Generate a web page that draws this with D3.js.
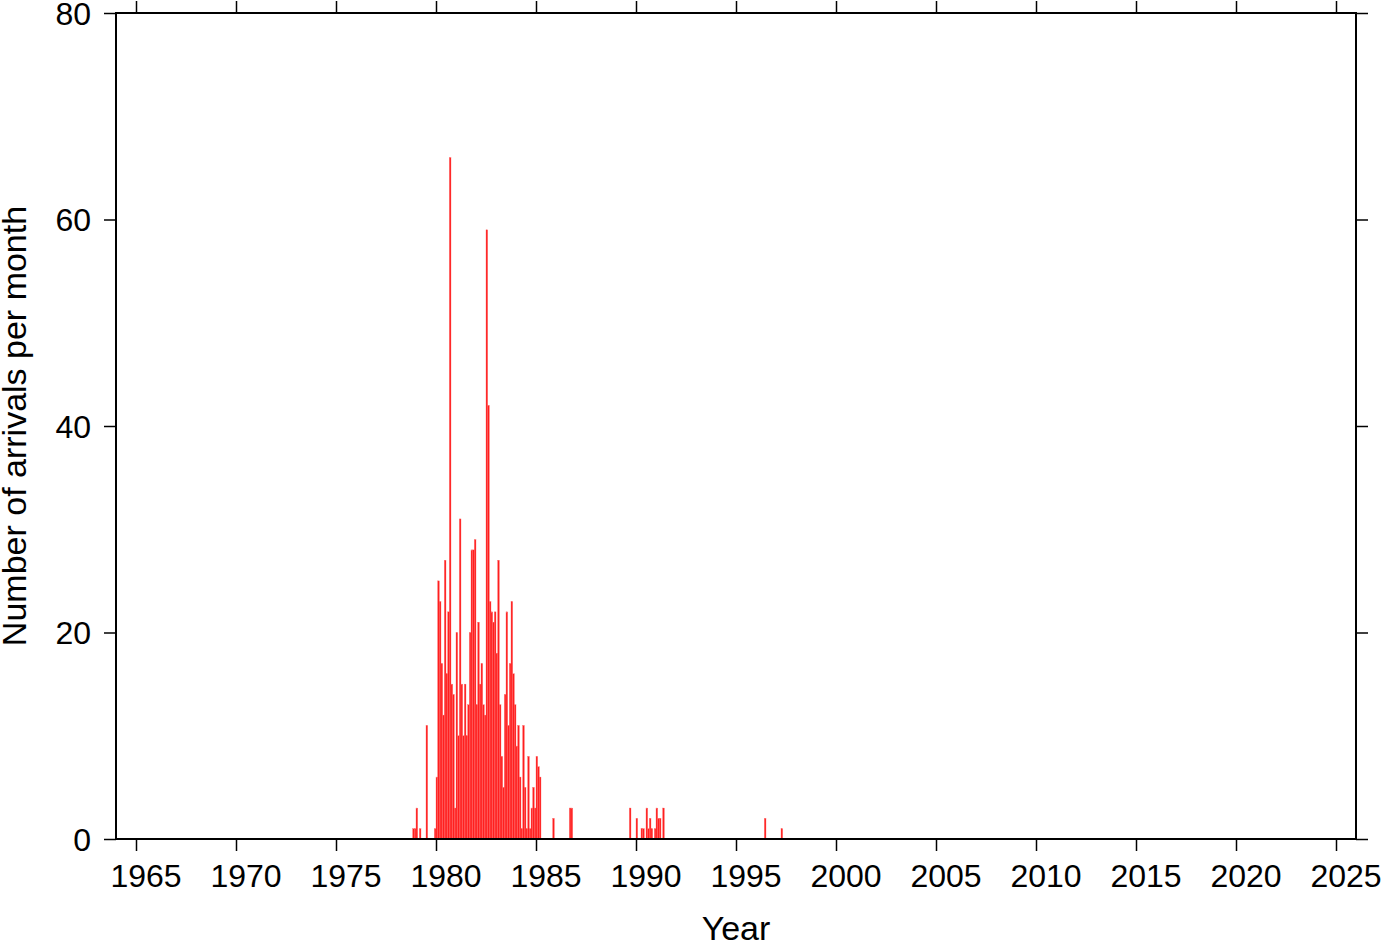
<!DOCTYPE html>
<html>
<head>
<meta charset="utf-8">
<script src="https://cdn.jsdelivr.net/npm/d3@7"></script>
<style>
  html, body { margin: 0; padding: 0; background: #fff; }
  svg { display: block; }
  text { font-family: "Liberation Sans", Arial, Helvetica, sans-serif; fill: #000; }
</style>
</head>
<body>
<script>
// ---------------- data ----------------
// Dense monthly counts starting at firstMonth
const firstMonth = "1978-11";
const monthlyCounts = [
  1, 1, 3, 0, 1, 0, 0, 0, 11, 0, 0, 0, 0, 1, 6, 25, 23, 17, 12, 27,
  16, 22, 66, 15, 14, 3, 20, 10, 31, 15, 10, 15, 10, 13, 20, 28, 28, 29, 13, 21,
  15, 17, 13, 12, 59, 42, 23, 22, 21, 22, 18, 27, 13, 8, 5, 14, 22, 11, 17, 23,
  16, 13, 9, 11, 6, 1, 11, 5, 1, 8, 1, 3, 5, 3, 8, 7, 6
];
// Sparse later months
const laterMonths = ["1985-11", "1986-09", "1986-10", "1989-09", "1990-01", "1990-04", "1990-05",
  "1990-07", "1990-08", "1990-09", "1990-10", "1990-12", "1991-01", "1991-02", "1991-03",
  "1991-05", "1996-06", "1997-04"];
const laterCounts = [2, 3, 3, 3, 2, 1, 1, 3, 1, 2, 1, 1, 3, 2, 2, 3, 2, 1];

const xTickYears = [1965, 1970, 1975, 1980, 1985, 1990, 1995, 2000, 2005, 2010, 2015, 2020, 2025];
const yTicks = [0, 20, 40, 60, 80];
const xTitle = "Year";
const yTitle = "Number of arrivals per month";

// ---------------- build records ----------------
function monthToYear(s) {
  const [y, m] = s.split("-").map(Number);
  return y + (m - 1) / 12;
}
const start = monthToYear(firstMonth);
const bars = [];
monthlyCounts.forEach((c, i) => bars.push({ t: start + i / 12, v: c }));
laterMonths.forEach((s, i) => bars.push({ t: monthToYear(s), v: laterCounts[i] }));

// ---------------- layout ----------------
const W = 1382, H = 942;
const L = 116, R = 1356, T = 13, B = 839;

const svg = d3.select("body").append("svg").attr("width", W).attr("height", H);

const x = d3.scaleLinear().domain([1964, 2026]).range([L, R]);
const y = d3.scaleLinear().domain([0, 80]).range([B, T]);

// bars
svg.append("g").selectAll("rect")
  .data(bars.filter(d => d.v > 0))
  .join("rect")
  .attr("x", d => x(d.t))
  .attr("y", d => y(d.v))
  .attr("width", d => x(d.t + 1 / 12) - x(d.t))
  .attr("height", d => y(0) - y(d.v))
  .attr("fill", "#ff1e1e")
  .attr("stroke", "#ff6464")
  .attr("stroke-width", 0.35);

// axes (ticks only, via d3 axes)
const tickLen = 12;
const axBottom = d3.axisBottom(x).tickValues(xTickYears).tickSize(tickLen).tickFormat("");
const axTop = d3.axisTop(x).tickValues(xTickYears).tickSize(tickLen).tickFormat("");
const axLeft = d3.axisLeft(y).tickValues(yTicks).tickSize(tickLen).tickFormat("");
const axRight = d3.axisRight(y).tickValues(yTicks).tickSize(tickLen).tickFormat("");

function styleAxis(g) {
  g.select(".domain").remove();
  g.selectAll(".tick line").attr("stroke", "#000").attr("stroke-width", 1.5);
}
svg.append("g").attr("transform", `translate(0,${B})`).call(axBottom).call(styleAxis);
svg.append("g").attr("transform", `translate(0,${T})`).call(axTop).call(styleAxis);
svg.append("g").attr("transform", `translate(${L},0)`).call(axLeft).call(styleAxis);
svg.append("g").attr("transform", `translate(${R},0)`).call(axRight).call(styleAxis);

// frame
svg.append("rect")
  .attr("x", L).attr("y", T).attr("width", R - L).attr("height", B - T)
  .attr("fill", "none").attr("stroke", "#000").attr("stroke-width", 2);

// x labels (centered on the year interval)
svg.append("g").selectAll("text")
  .data(xTickYears)
  .join("text")
  .attr("x", d => x(d + 0.5))
  .attr("y", 887)
  .attr("text-anchor", "middle")
  .attr("font-size", 32)
  .text(d => d);

// y labels
svg.append("g").selectAll("text")
  .data(yTicks)
  .join("text")
  .attr("x", 91)
  .attr("y", d => y(d) + 11.5)
  .attr("text-anchor", "end")
  .attr("font-size", 32)
  .text(d => d);

// titles
svg.append("text")
  .attr("x", (L + R) / 2)
  .attr("y", 940)
  .attr("text-anchor", "middle")
  .attr("font-size", 34)
  .text(xTitle);

svg.append("text")
  .attr("transform", `translate(26,${(T + B) / 2}) rotate(-90)`)
  .attr("text-anchor", "middle")
  .attr("font-size", 34)
  .text(yTitle);
</script>
</body>
</html>
